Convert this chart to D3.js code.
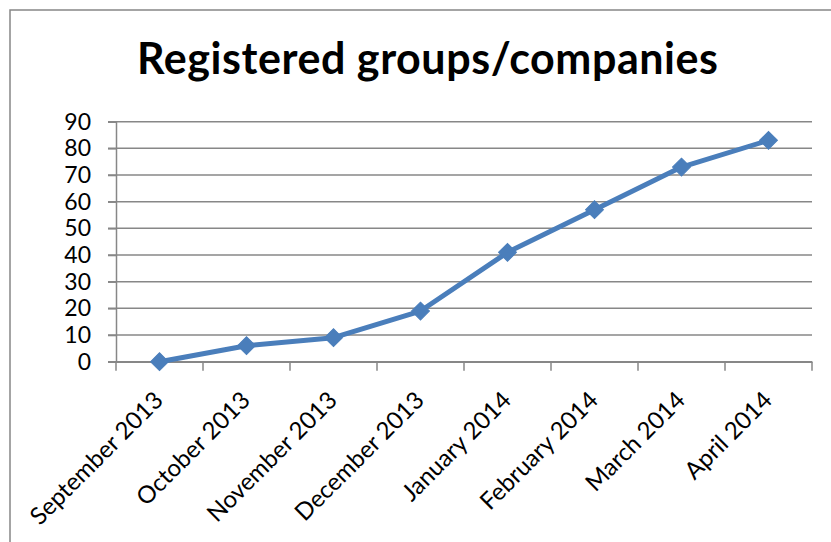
<!DOCTYPE html>
<html><head><meta charset="utf-8">
<script src="https://cdn.jsdelivr.net/npm/d3@7"></script>
<style>body{margin:0;background:#fff;} svg{display:block;font-family:Lato, "Open Sans", sans-serif;}</style>
</head><body><svg id="c" width="831" height="542"></svg>
<script>
const categories = ["September 2013","October 2013","November 2013","December 2013","January 2014","February 2014","March 2014","April 2014"];
const values = [0, 6, 9, 19, 41, 57, 73, 83];
const yTicks = [0,10,20,30,40,50,60,70,80,90];
const title = "Registered groups/companies";

(function(){
const svg = d3.select("#c");
svg.append("rect").attr("x",10).attr("y",10).attr("width",830).attr("height",560)
  .attr("fill","#fff").attr("stroke","#878787").attr("stroke-width",1.5);

const pl=116, pr=812, pt=121.7, pb=361.7;
const x = d3.scaleBand().domain(categories).range([pl,pr]);
const y = d3.scaleLinear().domain([0,90]).range([pb,pt]);

svg.append("text").attr("x",427.5).attr("y",74).attr("text-anchor","middle")
  .attr("font-size",43).attr("font-weight","bold").attr("fill","#000")
  .attr("textLength",581).attr("lengthAdjust","spacing").text(title);

svg.append("g").selectAll("line").data(yTicks).join("line")
  .attr("x1",108).attr("x2",pr).attr("y1",d=>y(d)).attr("y2",d=>y(d))
  .attr("stroke","#878787").attr("stroke-width",1.5);

const ya = svg.append("g").attr("transform",`translate(${pl},0)`)
  .call(d3.axisLeft(y).tickValues(yTicks).tickSize(8).tickPadding(17));
ya.select(".domain").attr("stroke","#878787").attr("stroke-width",1.5);
ya.selectAll(".tick line").attr("stroke","#878787").attr("stroke-width",1.5);
ya.selectAll("text").attr("font-size",23).attr("fill","#000").attr("font-family","Lato, sans-serif");

const xa = svg.append("g").attr("transform",`translate(0,${pb})`)
  .call(d3.axisBottom(x).tickSize(0).tickFormat(""));
xa.select(".domain").attr("stroke","#878787").attr("stroke-width",1.5);
const edges = d3.range(categories.length+1).map(i=>pl + i*x.step());
svg.append("g").selectAll("line").data(edges).join("line")
  .attr("x1",d=>d).attr("x2",d=>d).attr("y1",pb).attr("y2",pb+9)
  .attr("stroke","#878787").attr("stroke-width",1.5);
svg.append("g").selectAll("text").data(categories).join("text")
  .attr("transform",d=>`translate(${x(d)+x.bandwidth()/2+5},${pb+40}) rotate(-45)`)
  .attr("text-anchor","end").attr("font-size",24).attr("fill","#000").text(d=>d);

const pts = categories.map((c,i)=>[x(c)+x.bandwidth()/2, y(values[i])]);
svg.append("path").attr("d",d3.line()(pts)).attr("fill","none")
  .attr("stroke","#4A7EBB").attr("stroke-width",5).attr("stroke-linejoin","round");
svg.append("g").selectAll("path").data(pts).join("path")
  .attr("d",d3.symbol(d3.symbolSquare, 160)())
  .attr("transform",d=>`translate(${d[0]},${d[1]}) rotate(45)`)
  .attr("fill","#4A7EBB").attr("stroke","#4A7EBB").attr("stroke-width",1);
})();
</script></body></html>
